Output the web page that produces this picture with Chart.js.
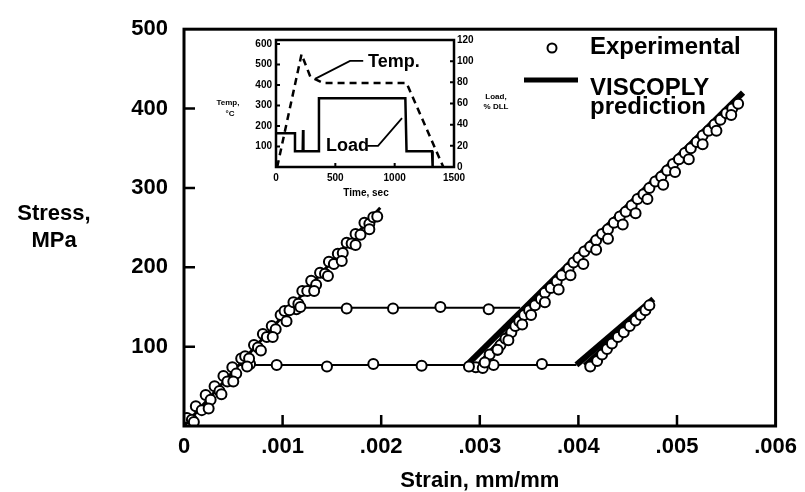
<!DOCTYPE html>
<html>
<head>
<meta charset="utf-8">
<script src="https://cdn.jsdelivr.net/npm/chart.js@4.4.0/dist/chart.umd.min.js"></script>
<style>
  html, body { margin: 0; padding: 0; background: #fff; }
  #wrap { position: relative; width: 805px; height: 492px; }
  #main { position: absolute; left: 0; top: 0; }
  #inset { position: absolute; left: 200px; top: 30px; }
</style>
</head>
<body>
<div id="wrap">
  <canvas id="main" width="805" height="492"></canvas>
  <canvas id="inset" width="320" height="175"></canvas>
</div>
<script>
// ---- main plot data (strain mm/mm, stress MPa) ----
const xTickVals = [0, 0.001, 0.002, 0.003, 0.004, 0.005, 0.006];
const yTickVals = [100, 200, 300, 400, 500];

// experimental, initial loading
const expLoadStrain = [0.00003,0.00008,0.00012,0.00018,0.00022,0.00027,0.00031,0.00036,0.00040,0.00044,0.00049,0.00053,0.00058,0.00062,0.00066,0.00071,0.00075,0.00080,0.00084,0.00089,0.00093,0.00098,0.00102,0.00107,0.00111,0.00116,0.00120,0.00125,0.00129,0.00134,0.00138,0.00143,0.00147,0.00152,0.00156,0.00161,0.00165,0.00170,0.00174,0.00179,0.00183,0.00188,0.00192,0.00196,
  0.00010,0.00025,0.00038,0.00050,0.00064,0.00078,0.00090,0.00104,0.00118,0.00132,0.00146,0.00160,0.00174,0.00188];
const expLoadStress = [10,8,25,20,39,33,50,44,63,56,74,66,85,88,85,102,99,116,112,126,122,140,145,146,156,154,170,170,183,178,193,192,207,204,217,218,231,230,242,241,256,255,263,264,
  5,22,40,56,75,95,112,132,150,170,189,208,228,248];
// experimental, hold at ~150 MPa
const expHoldHiStrain = [0.00114,0.00165,0.00212,0.00260,0.00309];
const expHoldHiStress = [147,148,148,150,147];
// experimental, hold at ~77 MPa
const expHoldLoStrain = [0.00067,0.00094,0.00145,0.00192,0.00241,0.00289,0.00363];
const expHoldLoStress = [78,77,75,78,76,75,78];
// experimental, reloading after first hold
const expReload1Strain = [0.00296,0.00303,0.00314,0.00310,0.00318,0.00321,0.00326,0.00332,0.00336,0.00340,0.00345,0.00350,0.00356,0.00362,0.00366,0.00372,0.00378,0.00383,0.00390,0.00395,0.00400,0.00406,0.00412,0.00418,0.00424,0.00430,0.00436,0.00442,0.00448,0.00454,0.00460,0.00466,0.00472,0.00478,0.00484,0.00490,0.00496,0.00502,0.00508,0.00514,0.00520,0.00526,0.00532,0.00538,0.00544,0.00550,0.00556,0.00562,
  0.00305,0.00318,0.00329,0.00343,0.00352,0.00366,0.00380,0.00392,0.00405,0.00418,0.00430,0.00445,0.00458,0.00470,0.00486,0.00498,0.00512,0.00526,0.00540,0.00555];
const expReload1Stress = [74,73,77,90,96,102,110,118,126,132,140,146,152,160,168,174,182,190,198,206,212,220,226,234,242,248,256,264,270,278,286,292,300,308,314,322,330,336,344,350,358,366,372,380,386,394,400,406,
  80,96,108,128,140,156,172,190,204,222,236,254,268,286,304,320,336,355,372,392];
// experimental, reloading after second hold
const expReload2Strain = [0.00412,0.00419,0.00424,0.00429,0.00434,0.00440,0.00446,0.00452,0.00458,0.00463,0.00468,0.00472];
const expReload2Stress = [75,82,90,97,104,112,118,126,133,140,146,152];

// VISCOPLY prediction segments
const predLoadStrain = [0, 0.00199];
const predLoadStress = [0, 275];
const predHoldHiStrain = [0.00108, 0.00341];
const predHoldHiStress = [149, 149];
const predHoldLoStrain = [0.00056, 0.00398];
const predHoldLoStress = [77, 77];
const predReload1Strain = [0.00287, 0.00567];
const predReload1Stress = [77, 420];
const predReload1bStrain = [0.00299, 0.00348];
const predReload1bStress = [77, 145];
const predReload2Strain = [0.00398, 0.00476];
const predReload2Stress = [77, 160];
const predReload2bStrain = [0.00406, 0.00440];
const predReload2bStress = [77, 115];

// ---- inset data (time sec) ----
const insetTimeTicks = [0, 500, 1000, 1500];
const insetTempTicks = [100, 200, 300, 400, 500, 600];
const insetLoadTicks = [0, 20, 40, 60, 80, 100, 120];
const tempTime = [10, 215, 290, 400, 1100, 1410];
const tempVals = [0, 550, 440, 410, 410, 0];
const loadTime = [0, 160, 160, 225, 228, 231, 362, 362, 1090, 1100, 1315, 1320];
const loadVals = [32, 32, 15, 15, 35, 15, 15, 65, 65, 15, 15, 0];

const pts = (xs, ys) => xs.map((x, i) => ({ x: x, y: ys[i] }));
const FONT = "'Liberation Sans', Arial, Helvetica, sans-serif";

const expStyle = {
  type: 'scatter', showLine: false, pointRadius: 5, pointBorderWidth: 2,
  pointBorderColor: '#000', pointBackgroundColor: '#fff', order: 1
};
const predStyle = (w) => ({
  type: 'line', borderColor: '#000', borderWidth: w, pointRadius: 0,
  fill: false, tension: 0, order: 2
});

// frame + inward ticks
const frameTicks = {
  id: 'frameTicks',
  afterDatasetsDraw(chart, args, o) {
    const { ctx, chartArea: a, scales } = chart;
    ctx.save();
    ctx.strokeStyle = '#000';
    ctx.lineWidth = o.tickWidth;
    ctx.beginPath();
    (o.bottom || []).forEach(v => {
      const px = scales.x.getPixelForValue(v);
      ctx.moveTo(px, a.bottom); ctx.lineTo(px, a.bottom - o.len);
    });
    (o.left || []).forEach(v => {
      const py = scales[o.leftId].getPixelForValue(v);
      ctx.moveTo(a.left, py); ctx.lineTo(a.left + o.len, py);
    });
    (o.right || []).forEach(v => {
      const py = scales[o.rightId].getPixelForValue(v);
      ctx.moveTo(a.right, py); ctx.lineTo(a.right - o.len, py);
    });
    ctx.stroke();
    ctx.lineWidth = o.width;
    ctx.strokeRect(a.left, a.top, a.right - a.left, a.bottom - a.top);
    ctx.restore();
  }
};

// titles and legend of main chart
const mainText = {
  id: 'mainText',
  afterDraw(chart) {
    const { ctx, chartArea: a } = chart;
    ctx.save();
    ctx.fillStyle = '#000';
    ctx.font = 'bold 22px ' + FONT;
    ctx.textAlign = 'center';
    ctx.textBaseline = 'alphabetic';
    ctx.fillText('Stress,', 54, 220);
    ctx.fillText('MPa', 54, 247);
    ctx.fillText('Strain, mm/mm', (a.left + a.right) / 2, 487);
    // legend
    ctx.textAlign = 'left';
    ctx.font = 'bold 24px ' + FONT;
    ctx.fillText('Experimental', 590, 54);
    ctx.fillText('VISCOPLY', 590, 95);
    ctx.fillText('prediction', 590, 114);
    ctx.lineWidth = 2;
    ctx.strokeStyle = '#000';
    ctx.fillStyle = '#fff';
    ctx.beginPath();
    ctx.arc(552, 48, 4.5, 0, Math.PI * 2);
    ctx.fill(); ctx.stroke();
    ctx.lineWidth = 5;
    ctx.beginPath();
    ctx.moveTo(524, 80); ctx.lineTo(578, 80);
    ctx.stroke();
    ctx.restore();
  }
};

new Chart(document.getElementById('main'), {
  data: {
    datasets: [
      Object.assign({ data: pts(expLoadStrain, expLoadStress) }, expStyle),
      Object.assign({ data: pts(expHoldHiStrain, expHoldHiStress) }, expStyle),
      Object.assign({ data: pts(expHoldLoStrain, expHoldLoStress) }, expStyle),
      Object.assign({ data: pts(expReload1Strain, expReload1Stress) }, expStyle),
      Object.assign({ data: pts(expReload2Strain, expReload2Stress) }, expStyle),
      Object.assign({ data: pts(predLoadStrain, predLoadStress) }, predStyle(3)),
      Object.assign({ data: pts(predHoldHiStrain, predHoldHiStress) }, predStyle(2)),
      Object.assign({ data: pts(predHoldLoStrain, predHoldLoStress) }, predStyle(2)),
      Object.assign({ data: pts(predReload1Strain, predReload1Stress) }, predStyle(6)),
      Object.assign({ data: pts(predReload1bStrain, predReload1bStress) }, predStyle(5)),
      Object.assign({ data: pts(predReload2Strain, predReload2Stress) }, predStyle(6)),
      Object.assign({ data: pts(predReload2bStrain, predReload2bStress) }, predStyle(4))
    ]
  },
  options: {
    responsive: false,
    animation: false,
    devicePixelRatio: 1,
    layout: { padding: { left: 0, right: 27, top: 25, bottom: 0 } },
    plugins: {
      legend: { display: false },
      tooltip: { enabled: false },
      frameTicks: { width: 3, tickWidth: 2.5, len: 11, bottom: [0.001, 0.002, 0.003, 0.004, 0.005], left: [100, 200, 300, 400], leftId: 'y' }
    },
    scales: {
      x: {
        type: 'linear', min: 0, max: 0.006,
        afterBuildTicks: s => { s.ticks = xTickVals.map(v => ({ value: v })); },
        afterFit: s => { s.height = 66; },
        grid: { display: false, drawTicks: false },
        border: { display: false },
        ticks: {
          padding: 8, color: '#000', maxRotation: 0, autoSkip: false,
          font: { family: FONT, size: 22, weight: 'bold' },
          callback: v => v === 0 ? '0' : '.00' + Math.round(v * 1000)
        }
      },
      y: {
        type: 'linear', min: 0, max: 500,
        afterBuildTicks: s => { s.ticks = yTickVals.map(v => ({ value: v })); },
        afterFit: s => { s.width = 184; },
        grid: { display: false, drawTicks: false },
        border: { display: false },
        ticks: {
          padding: 16, color: '#000', autoSkip: false,
          font: { family: FONT, size: 22, weight: 'bold' }
        }
      }
    }
  },
  plugins: [frameTicks, mainText]
});

// ---- inset ----
const insetText = {
  id: 'insetText',
  afterDraw(chart) {
    const { ctx, scales } = chart;
    const X = scales.x, T = scales.yT;
    ctx.save();
    ctx.fillStyle = '#000';
    ctx.strokeStyle = '#000';
    ctx.textAlign = 'center';
    ctx.textBaseline = 'alphabetic';
    ctx.font = 'bold 8px ' + FONT;
    ctx.fillText('Temp,', 28, 75);
    ctx.fillText('\u00b0C', 30, 86);
    ctx.fillText('Load,', 296, 69);
    ctx.fillText('% DLL', 296, 79);
    ctx.font = 'bold 10px ' + FONT;
    ctx.fillText('Time, sec', 166, 166);
    // callouts
    ctx.textAlign = 'left';
    ctx.textBaseline = 'middle';
    ctx.font = 'bold 18px ' + FONT;
    ctx.fillText('Temp.', X.getPixelForValue(775), T.getPixelForValue(513));
    ctx.fillText('Load', X.getPixelForValue(421), T.getPixelForValue(103));
    ctx.lineWidth = 1.8;
    ctx.beginPath();
    ctx.moveTo(X.getPixelForValue(735), T.getPixelForValue(518));
    ctx.lineTo(X.getPixelForValue(624), T.getPixelForValue(518));
    ctx.lineTo(X.getPixelForValue(329), T.getPixelForValue(430));
    ctx.moveTo(X.getPixelForValue(770), T.getPixelForValue(103));
    ctx.lineTo(X.getPixelForValue(860), T.getPixelForValue(103));
    ctx.lineTo(X.getPixelForValue(1062), T.getPixelForValue(239));
    ctx.stroke();
    ctx.restore();
  }
};

const insetTickFont = { family: FONT, size: 10, weight: 'bold' };
new Chart(document.getElementById('inset'), {
  type: 'line',
  data: {
    datasets: [
      { data: pts(tempTime, tempVals), yAxisID: 'yT', borderColor: '#000', borderWidth: 2.5, borderDash: [7, 5], pointRadius: 0, tension: 0 },
      { data: pts(loadTime, loadVals), yAxisID: 'yL', borderColor: '#000', borderWidth: 2.5, pointRadius: 0, tension: 0 }
    ]
  },
  options: {
    responsive: false,
    animation: false,
    devicePixelRatio: 1,
    layout: { padding: { left: 0, right: 0, top: 10, bottom: 0 } },
    plugins: {
      legend: { display: false },
      tooltip: { enabled: false },
      frameTicks: { width: 2.5, tickWidth: 2, len: 4, bottom: [500, 1000], left: insetTempTicks, leftId: 'yT', right: insetLoadTicks, rightId: 'yL' }
    },
    scales: {
      x: {
        type: 'linear', min: 0, max: 1500,
        afterBuildTicks: s => { s.ticks = insetTimeTicks.map(v => ({ value: v })); },
        afterFit: s => { s.height = 38; },
        grid: { display: false, drawTicks: false },
        border: { display: false },
        ticks: { padding: 5, color: '#000', maxRotation: 0, autoSkip: false, font: insetTickFont, callback: v => String(v) }
      },
      yT: {
        type: 'linear', position: 'left', min: 0, max: 620,
        afterBuildTicks: s => { s.ticks = insetTempTicks.map(v => ({ value: v })); },
        afterFit: s => { s.width = 76; },
        grid: { display: false, drawTicks: false },
        border: { display: false },
        ticks: { padding: 4, color: '#000', autoSkip: false, font: insetTickFont, callback: v => String(v) }
      },
      yL: {
        type: 'linear', position: 'right', min: 0, max: 120,
        afterBuildTicks: s => { s.ticks = insetLoadTicks.map(v => ({ value: v })); },
        afterFit: s => { s.width = 66; },
        grid: { display: false, drawTicks: false },
        border: { display: false },
        ticks: { padding: 3, color: '#000', autoSkip: false, font: insetTickFont, callback: v => String(v) }
      }
    }
  },
  plugins: [frameTicks, insetText]
});
</script>
</body>
</html>
